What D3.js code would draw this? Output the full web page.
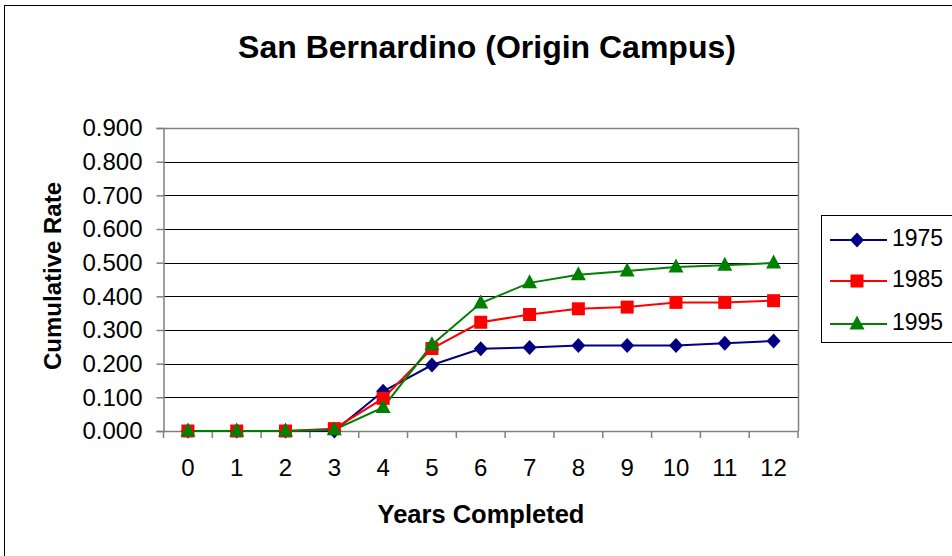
<!DOCTYPE html>
<html><head><meta charset="utf-8">
<script src="https://cdn.jsdelivr.net/npm/d3@7"></script>
<style>body{margin:0;background:#fff}svg{display:block;font-family:Arial,"Liberation Sans",sans-serif}</style>
</head><body><svg id="c" width="952" height="556"></svg>
<script>
const years = [0,1,2,3,4,5,6,7,8,9,10,11,12];
const s1975 = [0,0,0,0,0.118,0.196,0.244,0.248,0.254,0.254,0.254,0.261,0.267];
const s1985 = [0,0,0,0.007,0.097,0.245,0.323,0.346,0.363,0.368,0.382,0.382,0.387];
const s1995 = [0,0,0,0.004,0.07,0.256,0.38,0.44,0.464,0.475,0.487,0.492,0.499];
const seriesNames = ["1975","1985","1995"];
const yTicks = [0,0.1,0.2,0.3,0.4,0.5,0.6,0.7,0.8,0.9];

const diamond = {draw(c){ c.moveTo(0,-7.5); c.lineTo(7,0); c.lineTo(0,7.5); c.lineTo(-7,0); c.closePath(); }};
const square = {draw(c){ c.rect(-6.5,-6.5,13,13); }};
const triangle = {draw(c){ c.moveTo(0,-8.5); c.lineTo(7.5,5.5); c.lineTo(-7.5,5.5); c.closePath(); }};

const series = [
  {name: seriesNames[0], values: s1975, color: "#000080", sym: diamond},
  {name: seriesNames[1], values: s1985, color: "#ff0000", sym: square},
  {name: seriesNames[2], values: s1995, color: "#008000", sym: triangle}
];

const FF = "Arial, 'Liberation Sans', sans-serif";
const svg = d3.select("#c");
const L = 163.5, R = 798, T = 128, B = 431;

svg.append("rect").attr("x",4.5).attr("y",5.5).attr("width",960).attr("height",600)
  .attr("fill","#fff").attr("stroke","#000").attr("stroke-width",1);

const x = d3.scaleBand().domain(years).range([L,R]);
const y = d3.scaleLinear().domain([0,0.9]).range([B,T]);

svg.append("g").selectAll("line").data(yTicks.slice(1)).join("line")
  .attr("x1",L).attr("x2",R).attr("y1",d=>Math.round(y(d))+0.5).attr("y2",d=>Math.round(y(d))+0.5)
  .attr("stroke",d=>d===0.9?"#808080":"#000").attr("stroke-width",d=>d===0.9?1.5:1);

svg.append("line").attr("x1",R+0.5).attr("x2",R+0.5).attr("y1",T).attr("y2",B).attr("stroke","#808080").attr("stroke-width",1.5);

const yAxis = d3.axisLeft(y).tickValues(yTicks).tickFormat(d3.format(".3f")).tickSize(7).tickPadding(14);
const gy = svg.append("g").attr("transform",`translate(${L},0)`).call(yAxis);
gy.select(".domain").attr("stroke","#808080").attr("stroke-width",1.5);
gy.selectAll(".tick line").attr("stroke","#808080").attr("stroke-width",1.5);
gy.selectAll("text").attr("font-size",24).attr("fill","#000").attr("font-family",FF);

const xAxis = d3.axisBottom(x).tickSize(0).tickPadding(28);
const gx = svg.append("g").attr("transform",`translate(0,${B})`).call(xAxis);
gx.select(".domain").attr("stroke","#808080").attr("stroke-width",1.5);
gx.selectAll("text").attr("font-size",24).attr("fill","#000").attr("font-family",FF);
const bounds = years.map(d=>x(d)).concat([R]);
svg.append("g").selectAll("line").data(bounds).join("line")
  .attr("x1",d=>d).attr("x2",d=>d).attr("y1",B).attr("y2",B+7)
  .attr("stroke","#808080").attr("stroke-width",1.5);

const cx = d => x(d) + x.bandwidth()/2;

series.forEach(s=>{
  const line = d3.line().x((v,i)=>cx(years[i])).y(v=>y(v));
  svg.append("path").datum(s.values).attr("d",line).attr("fill","none").attr("stroke",s.color).attr("stroke-width",2);
});
series.forEach(s=>{
  svg.append("g").selectAll("path").data(s.values).join("path")
    .attr("d",d3.symbol(s.sym))
    .attr("transform",(v,i)=>`translate(${cx(years[i])},${y(v)})`)
    .attr("fill",s.color);
});

svg.append("text").attr("x",487).attr("y",58).attr("text-anchor","middle")
  .attr("font-size",32).attr("font-weight","bold").attr("font-family",FF).text("San Bernardino (Origin Campus)");

svg.append("text").attr("transform","translate(61,276) rotate(-90)").attr("text-anchor","middle")
  .attr("font-size",24).attr("font-weight","bold").attr("font-family",FF).text("Cumulative Rate");
svg.append("text").attr("x",481).attr("y",523).attr("text-anchor","middle")
  .attr("font-size",25.5).attr("font-weight","bold").attr("font-family",FF).text("Years Completed");

svg.append("rect").attr("x",821.5).attr("y",215.5).attr("width",140).attr("height",127)
  .attr("fill","#fff").attr("stroke","#000").attr("stroke-width",1);
const ly = [240,281,324];
series.forEach((s,i)=>{
  const g = svg.append("g");
  g.append("line").attr("x1",830).attr("x2",887).attr("y1",ly[i]).attr("y2",ly[i]).attr("stroke",s.color).attr("stroke-width",2);
  g.append("path").attr("d",d3.symbol(s.sym)).attr("transform",`translate(857,${ly[i]})`).attr("fill",s.color);
  g.append("text").attr("x",892).attr("y",ly[i]+6).attr("font-size",23).attr("font-family",FF).text(s.name);
});
</script></body></html>
